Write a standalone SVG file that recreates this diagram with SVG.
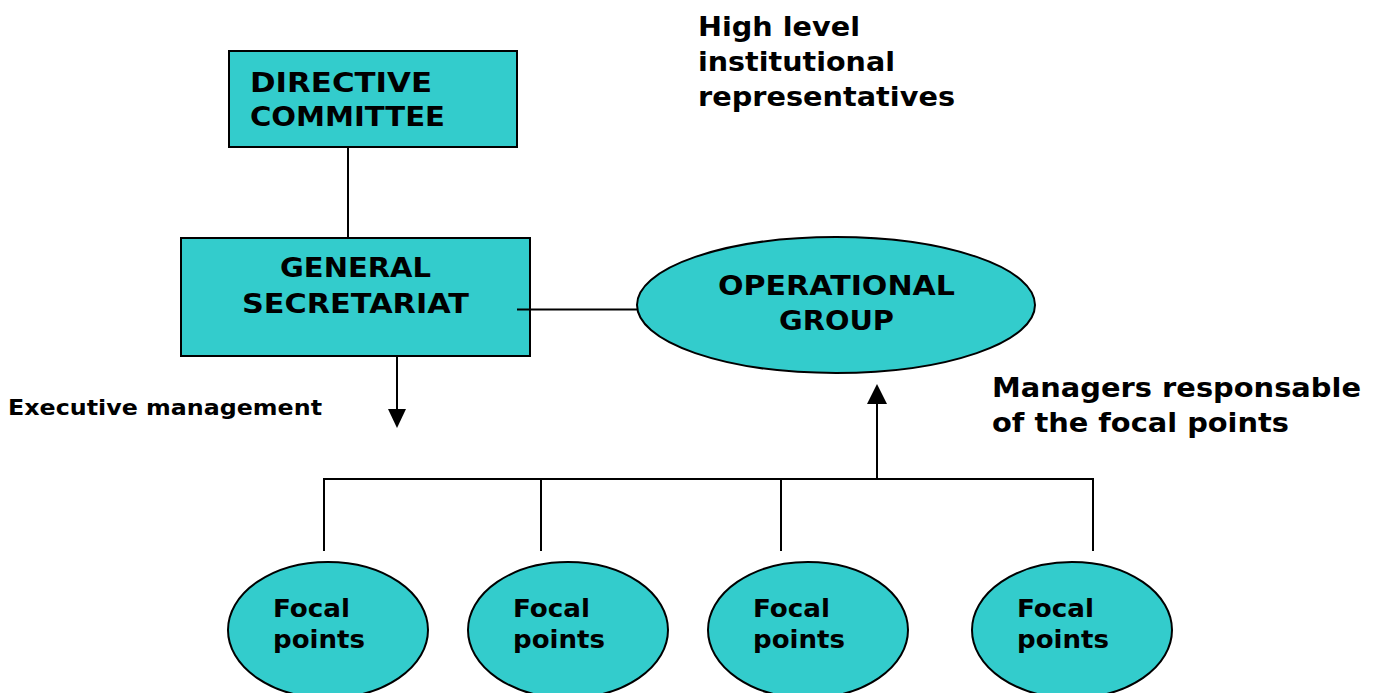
<svg xmlns="http://www.w3.org/2000/svg" width="1379" height="693" viewBox="0 0 1379 693">
<style>
.n{fill:#33CCCC;stroke:#000;stroke-width:2}
.t{font-family:"DejaVu Sans",Verdana,sans-serif;font-weight:bold;fill:#000}
.big{font-size:27px}
.lbl{font-size:27px}
.fp{font-size:25px}
.c{stroke:#000;stroke-width:2;fill:none}
.ah{fill:#000;stroke:none}
</style>
<rect width="1379" height="693" fill="#fff"/>
<g id="directive">
<rect class="n" x="229" y="51" width="288" height="96"/>
<text class="t big" x="250" y="92" textLength="182" lengthAdjust="spacingAndGlyphs">DIRECTIVE</text>
<text class="t big" x="250" y="126" textLength="195" lengthAdjust="spacingAndGlyphs">COMMITTEE</text>
</g>
<g id="secretariat">
<rect class="n" x="181" y="238" width="349" height="118"/>
<text class="t big" x="280" y="277" textLength="151" lengthAdjust="spacingAndGlyphs">GENERAL</text>
<text class="t big" x="242" y="313" textLength="227" lengthAdjust="spacingAndGlyphs">SECRETARIAT</text>
</g>
<g id="operational">
<ellipse class="n" cx="836" cy="305" rx="199" ry="68"/>
<text class="t big" x="718" y="295" textLength="237" lengthAdjust="spacingAndGlyphs">OPERATIONAL</text>
<text class="t big" x="779" y="330" textLength="115" lengthAdjust="spacingAndGlyphs">GROUP</text>
</g>
<g id="focal1">
<ellipse class="n" cx="328" cy="630" rx="100" ry="68"/>
<text class="t fp" x="273" y="617" textLength="77" lengthAdjust="spacingAndGlyphs">Focal</text>
<text class="t fp" x="273" y="648" textLength="92" lengthAdjust="spacingAndGlyphs">points</text>
</g>
<g id="focal2">
<ellipse class="n" cx="568" cy="630" rx="100" ry="68"/>
<text class="t fp" x="513" y="617" textLength="77" lengthAdjust="spacingAndGlyphs">Focal</text>
<text class="t fp" x="513" y="648" textLength="92" lengthAdjust="spacingAndGlyphs">points</text>
</g>
<g id="focal3">
<ellipse class="n" cx="808" cy="630" rx="100" ry="68"/>
<text class="t fp" x="753" y="617" textLength="77" lengthAdjust="spacingAndGlyphs">Focal</text>
<text class="t fp" x="753" y="648" textLength="92" lengthAdjust="spacingAndGlyphs">points</text>
</g>
<g id="focal4">
<ellipse class="n" cx="1072" cy="630" rx="100" ry="68"/>
<text class="t fp" x="1017" y="617" textLength="77" lengthAdjust="spacingAndGlyphs">Focal</text>
<text class="t fp" x="1017" y="648" textLength="92" lengthAdjust="spacingAndGlyphs">points</text>
</g>
<g id="connectors">
<line class="c" x1="348" y1="147" x2="348" y2="238"/>
<line class="c" x1="517" y1="309.5" x2="637" y2="309.5"/>
<line class="c" x1="397" y1="356" x2="397" y2="412"/>
<polygon class="ah" points="388,409 406,409 397,428"/>
<line class="c" x1="877" y1="479" x2="877" y2="400"/>
<polygon class="ah" points="867,404 887,404 877,384"/>
<polyline class="c" points="324,551 324,479 1093,479 1093,551"/>
<line class="c" x1="541" y1="479" x2="541" y2="551"/>
<line class="c" x1="781" y1="479" x2="781" y2="551"/>
</g>
<g id="labels">
<text class="t lbl" x="698" y="36" textLength="162" lengthAdjust="spacingAndGlyphs">High level</text>
<text class="t lbl" x="698" y="71" textLength="197" lengthAdjust="spacingAndGlyphs">institutional</text>
<text class="t lbl" x="698" y="106" textLength="257" lengthAdjust="spacingAndGlyphs">representatives</text>
<text class="t lbl" x="992" y="397" textLength="369" lengthAdjust="spacingAndGlyphs">Managers responsable</text>
<text class="t lbl" x="992" y="432" textLength="297" lengthAdjust="spacingAndGlyphs">of the focal points</text>
<text class="t" x="8" y="415" style="font-size:21px" textLength="314" lengthAdjust="spacingAndGlyphs">Executive management</text>
</g>
</svg>
